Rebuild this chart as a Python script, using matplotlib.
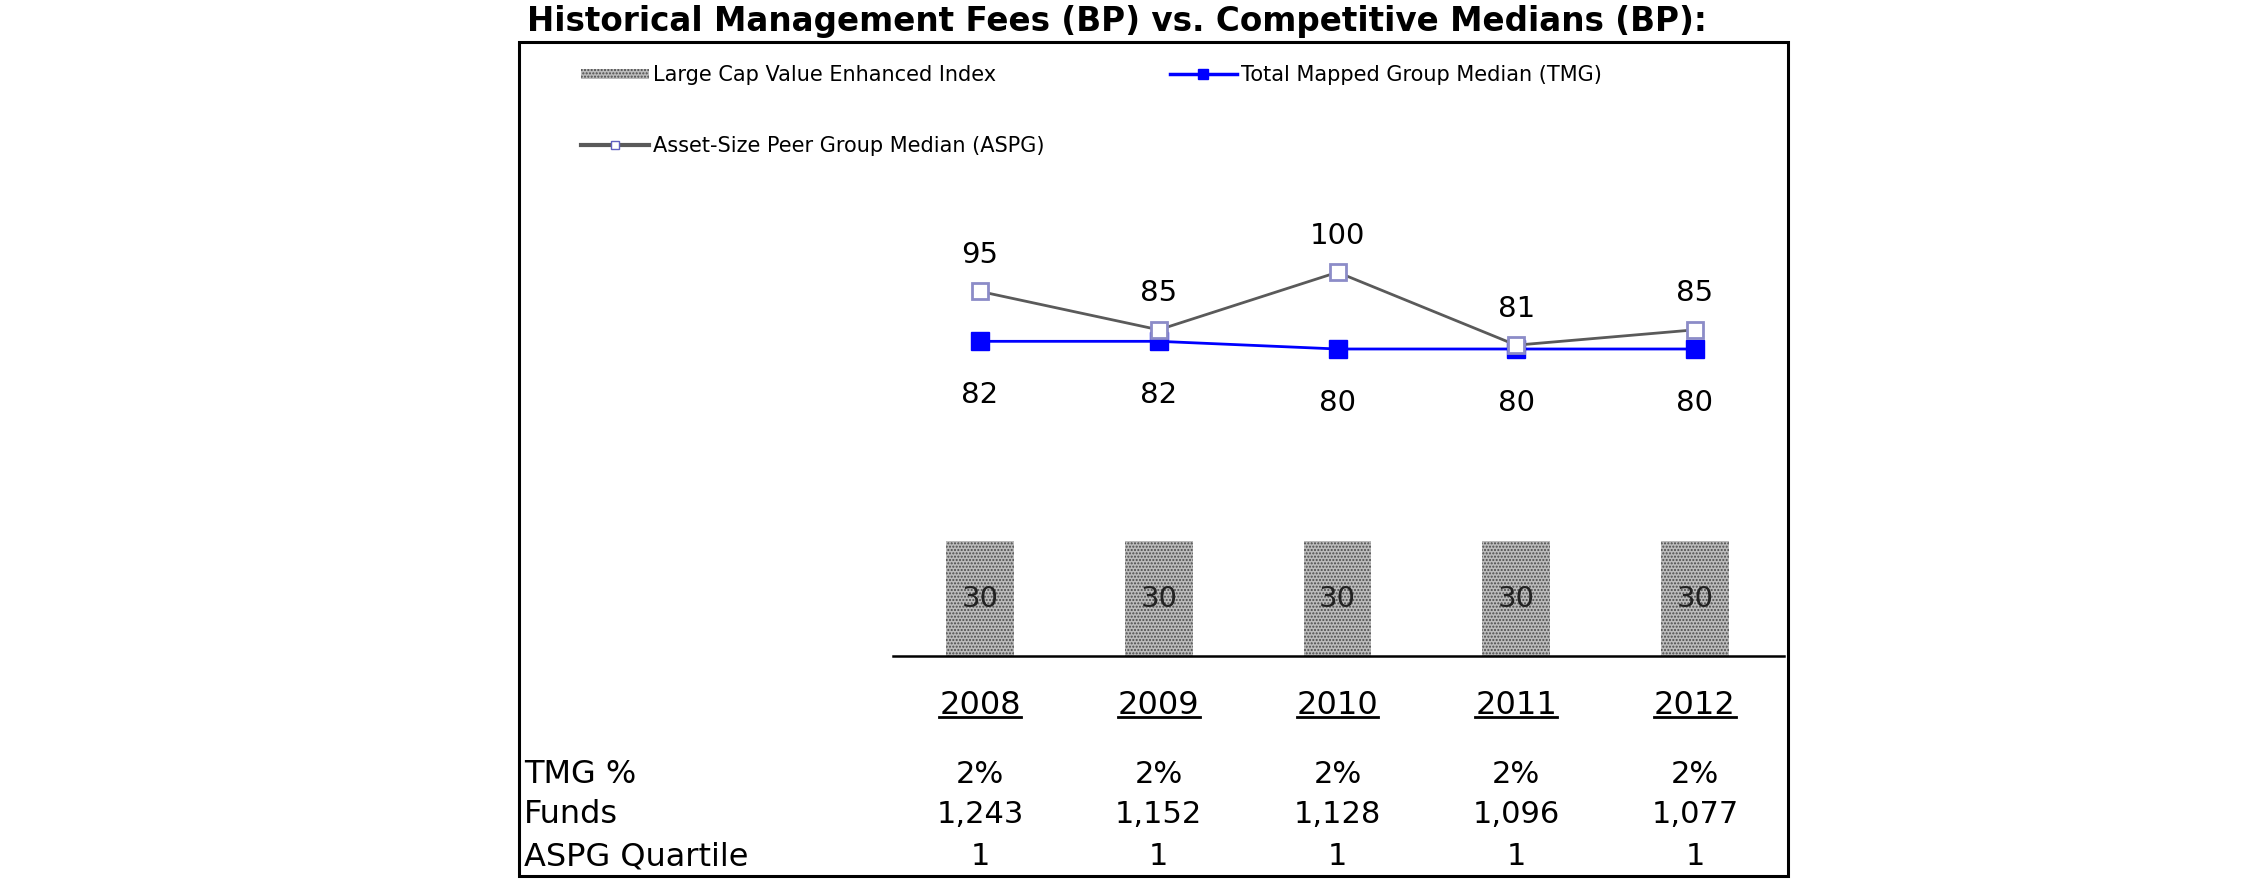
import matplotlib
matplotlib.use("Agg")
import matplotlib.pyplot as plt
from matplotlib.patches import Rectangle
from matplotlib.lines import Line2D
from matplotlib.transforms import blended_transform_factory

# data
years = ["2008", "2009", "2010", "2011", "2012"]
index_fee = [30, 30, 30, 30, 30]
tmg_median = [82, 82, 80, 80, 80]
aspg_median = [95, 85, 100, 81, 85]
tmg_pct = ["2%", "2%", "2%", "2%", "2%"]
funds = ["1,243", "1,152", "1,128", "1,096", "1,077"]
aspg_quartile = ["1", "1", "1", "1", "1"]
row_names = ["TMG %", "Funds", "ASPG Quartile"]

W, H = 2250, 895
fig = plt.figure(figsize=(W / 100, H / 100), dpi=100)
plt.rcParams['font.family'] = 'DejaVu Sans'

def fx(px):
    return px / W

def fy(py):
    return 1 - py / H

ax = fig.add_axes([fx(893), fy(657), fx(1784) - fx(893), fy(43) - fy(657)])
x = list(range(len(years)))

ax.bar(x, index_fee, width=0.38, color='#bcbcbc', edgecolor='#4a4a4a',
       hatch='.....', linewidth=0, zorder=1)
for xi, v in zip(x, index_fee):
    ax.text(xi, v / 2, str(v), ha='center', va='center', fontsize=21, color='#222222', zorder=3)

ax.plot(x, tmg_median, color='#0000ff', lw=2, marker='s', ms=13,
        mfc='#0000ff', mec='#0000ff', zorder=2)
ax.plot(x, aspg_median, color='#5a5a5a', lw=2, marker='s', ms=11,
        mfc='white', mec='#8c8cc8', mew=2, zorder=4)

for xi, v in zip(x, aspg_median):
    ax.annotate(str(v), (xi, v), xytext=(0, 27), textcoords='offset points',
                ha='center', va='center', fontsize=21)
for xi, v in zip(x, tmg_median):
    ax.annotate(str(v), (xi, v), xytext=(0, -38), textcoords='offset points',
                ha='center', va='center', fontsize=21)

ax.set_xlim(-0.487, 4.498)
ax.set_ylim(0, 160)
for s in ['top', 'left', 'right']:
    ax.spines[s].set_visible(False)
ax.spines['bottom'].set_linewidth(1.8)
ax.set_xticks([])
ax.set_yticks([])
ax.patch.set_alpha(0)

# year labels and table below the axis
tr = blended_transform_factory(ax.transData, fig.transFigure)
year_texts = []
for xi, yr in zip(x, years):
    year_texts.append(fig.text(xi, fy(706), yr, transform=tr,
                               ha='center', va='center', fontsize=23))

rows = [tmg_pct, funds, aspg_quartile]
row_y = [775, 815, 857]
for name, vals, ry in zip(row_names, rows, row_y):
    fig.text(fx(524), fy(ry), name, ha='left', va='center', fontsize=23)
    for xi, v in zip(x, vals):
        fig.text(xi, fy(ry), v, transform=tr, ha='center', va='center', fontsize=22)

# frame and title
fig.patches.append(Rectangle((fx(519), fy(877)), fx(1788) - fx(519), fy(43) - fy(877),
                             transform=fig.transFigure, fill=False, lw=2.2,
                             edgecolor='black'))
fig.text(fx(527), fy(21), "Historical Management Fees (BP) vs. Competitive Medians (BP):",
         ha='left', va='center', fontsize=23.5, fontweight='bold')

# legend drawn by hand
fig.patches.append(Rectangle((fx(581), fy(80)), fx(649) - fx(581), fy(70) - fy(80),
                             transform=fig.transFigure, facecolor='#bcbcbc',
                             edgecolor='#4a4a4a', hatch='.....', lw=0))
fig.text(fx(653), fy(75), "Large Cap Value Enhanced Index", ha='left', va='center', fontsize=15)

fig.lines.append(Line2D([fx(1170), fx(1237)], [fy(75), fy(75)], transform=fig.transFigure,
                        color='#0000ff', lw=2.5))
fig.lines.append(Line2D([fx(1203)], [fy(75)], transform=fig.transFigure, marker='s',
                        ms=7, color='#0000ff'))
fig.text(fx(1241), fy(75), "Total Mapped Group Median (TMG)", ha='left', va='center', fontsize=15)

fig.lines.append(Line2D([fx(581), fx(649)], [fy(146), fy(146)], transform=fig.transFigure,
                        color='#5a5a5a', lw=3))
fig.lines.append(Line2D([fx(615)], [fy(146)], transform=fig.transFigure, marker='s',
                        ms=6, mfc='white', mec='#6060c0'))
fig.text(fx(653), fy(146), "Asset-Size Peer Group Median (ASPG)", ha='left', va='center', fontsize=15)

# underline the years
fig.canvas.draw()
for t in year_texts:
    bb = t.get_window_extent().transformed(fig.transFigure.inverted())
    fig.lines.append(Line2D([bb.x0, bb.x1], [bb.y0 + 0.004, bb.y0 + 0.004],
                            transform=fig.transFigure, color='black', lw=2))

fig.savefig("out.png", dpi=100)
